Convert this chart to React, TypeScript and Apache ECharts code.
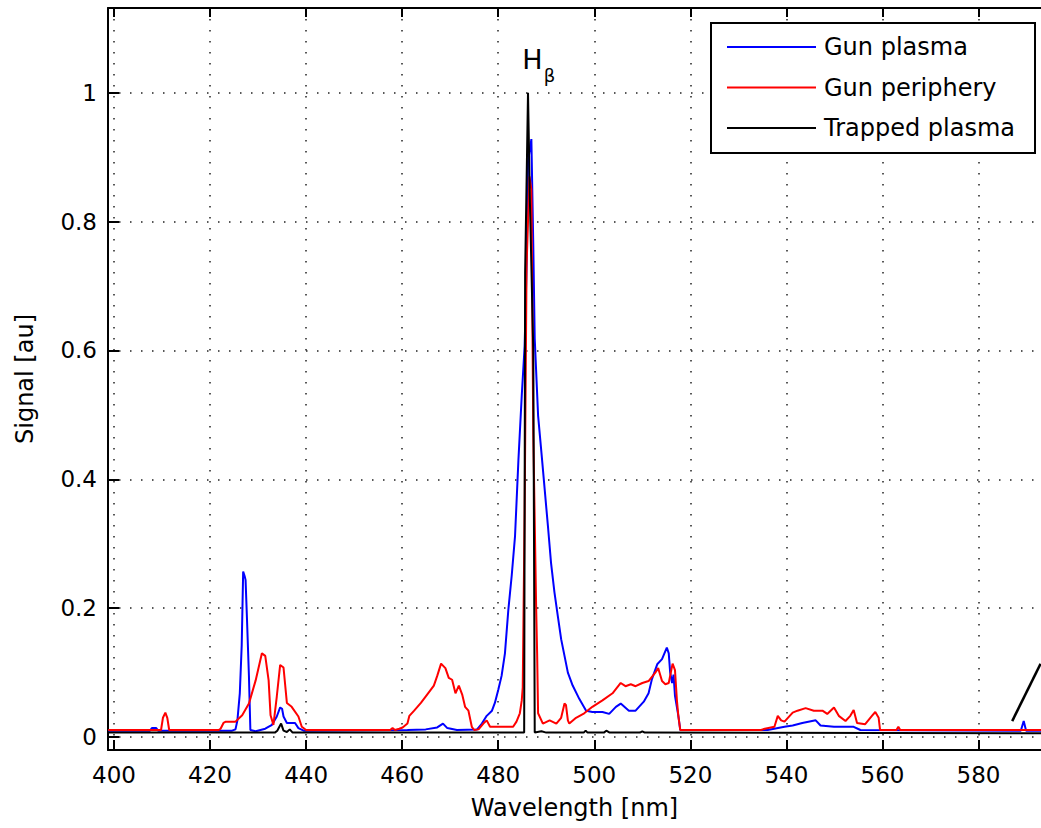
import React, { useEffect, useRef } from "react";
import * as echarts from "echarts";

// ---- Data (wavelength [nm], signal [au]) ----
const gunPlasma: [number, number][] = [
  [398.8, 0.010], [407.5, 0.010], [407.9, 0.014], [408.8, 0.014], [409.2, 0.010],
  [424.6, 0.010], [425.3, 0.012], [425.7, 0.026], [426.2, 0.068], [426.6, 0.143],
  [426.9, 0.257], [427.2, 0.250], [427.4, 0.244], [427.7, 0.182], [428.1, 0.095],
  [428.4, 0.011], [429.5, 0.009], [431.5, 0.013], [432.9, 0.019], [433.9, 0.032],
  [434.6, 0.046], [435.0, 0.044], [435.3, 0.032], [436.0, 0.022], [437.7, 0.022],
  [438.4, 0.014], [439.5, 0.010], [461.1, 0.011], [464.9, 0.012], [467.3, 0.015],
  [468.5, 0.021], [469.4, 0.014], [471.4, 0.011], [475.6, 0.012], [476.6, 0.021],
  [477.6, 0.033], [478.7, 0.041], [479.3, 0.053], [480.0, 0.073], [480.7, 0.095],
  [481.4, 0.130], [482.1, 0.197], [482.8, 0.250], [483.5, 0.312], [484.2, 0.429],
  [484.9, 0.530], [485.5, 0.607], [485.9, 0.731], [486.2, 0.893], [486.9, 0.928],
  [487.3, 0.763], [487.6, 0.618], [488.3, 0.499], [489.0, 0.441], [489.7, 0.382],
  [490.4, 0.323], [491.0, 0.270], [491.7, 0.225], [492.4, 0.188], [493.1, 0.152],
  [493.8, 0.126], [494.5, 0.100], [495.5, 0.080], [496.9, 0.059], [498.3, 0.041],
  [499.6, 0.039], [501.7, 0.039], [503.1, 0.036], [504.5, 0.047], [505.5, 0.052],
  [507.2, 0.041], [508.6, 0.041], [510.3, 0.055], [511.3, 0.068], [512.0, 0.090],
  [513.1, 0.113], [514.1, 0.121], [515.1, 0.139], [515.5, 0.130], [515.8, 0.100],
  [516.2, 0.084], [516.5, 0.097], [516.8, 0.064], [517.5, 0.033], [517.9, 0.011],
  [536.1, 0.011], [539.6, 0.016], [541.3, 0.018], [543.3, 0.022], [546.1, 0.026],
  [547.1, 0.018], [549.9, 0.016], [554.0, 0.016], [555.4, 0.011], [588.8, 0.010],
  [589.4, 0.025], [589.9, 0.010], [593.0, 0.010],
];

const gunPeriphery: [number, number][] = [
  [398.8, 0.011], [409.8, 0.011], [410.2, 0.030], [410.7, 0.038], [411.1, 0.030],
  [411.5, 0.011], [421.8, 0.011], [422.2, 0.013], [422.8, 0.022], [423.3, 0.024],
  [425.3, 0.024], [426.7, 0.034], [428.1, 0.052], [429.5, 0.088], [430.8, 0.130],
  [431.5, 0.126], [432.2, 0.088], [432.6, 0.034], [433.2, 0.019], [433.9, 0.063],
  [434.6, 0.112], [435.3, 0.108], [436.0, 0.053], [437.0, 0.047], [438.4, 0.032],
  [439.1, 0.016], [440.0, 0.011], [457.5, 0.011], [458.0, 0.014], [458.5, 0.011],
  [459.4, 0.013], [460.1, 0.015], [461.1, 0.021], [461.5, 0.033], [462.5, 0.041],
  [463.9, 0.053], [465.2, 0.066], [466.6, 0.080], [467.3, 0.095], [468.1, 0.114],
  [469.0, 0.107], [469.7, 0.092], [470.4, 0.089], [471.1, 0.068], [471.8, 0.080],
  [472.5, 0.066], [473.1, 0.047], [473.8, 0.041], [474.5, 0.016], [475.0, 0.011],
  [475.9, 0.012], [476.9, 0.021], [477.6, 0.026], [478.3, 0.016], [479.0, 0.016],
  [483.1, 0.016], [483.8, 0.024], [484.5, 0.037], [484.9, 0.057], [485.1, 0.077],
  [485.5, 0.350], [485.9, 0.730], [486.5, 0.870], [486.9, 0.850], [487.3, 0.470],
  [487.9, 0.200], [488.1, 0.130], [488.3, 0.037], [489.3, 0.021], [490.7, 0.026],
  [492.1, 0.021], [493.1, 0.030], [493.8, 0.052], [494.1, 0.050], [494.5, 0.026],
  [494.8, 0.021], [496.2, 0.030], [497.9, 0.037], [499.6, 0.047], [501.7, 0.057],
  [503.8, 0.068], [505.5, 0.084], [506.5, 0.079], [507.6, 0.082], [508.6, 0.079],
  [510.0, 0.084], [511.3, 0.087], [512.7, 0.100], [513.3, 0.107], [514.1, 0.087],
  [514.8, 0.082], [515.5, 0.084], [516.3, 0.114], [516.8, 0.104], [517.2, 0.057],
  [517.5, 0.033], [517.9, 0.011], [534.7, 0.011], [535.5, 0.013], [537.5, 0.016],
  [538.2, 0.033], [538.9, 0.026], [539.6, 0.024], [541.3, 0.038], [542.3, 0.041],
  [544.0, 0.045], [545.7, 0.041], [547.5, 0.041], [548.5, 0.036], [549.9, 0.046],
  [550.9, 0.033], [552.3, 0.025], [553.3, 0.033], [554.0, 0.042], [554.7, 0.022],
  [556.4, 0.020], [557.8, 0.033], [558.5, 0.039], [559.2, 0.030], [559.5, 0.011],
  [562.9, 0.011], [563.3, 0.016], [563.7, 0.011], [593.0, 0.011],
];

const trappedPlasma: [number, number][] = [
  [398.8, 0.007], [433.5, 0.007], [434.0, 0.010], [434.8, 0.021], [435.3, 0.010],
  [436.0, 0.008], [436.6, 0.012], [437.2, 0.007], [485.4, 0.007], [485.6, 0.720],
  [486.2, 1.000], [486.6, 0.830], [487.3, 0.600], [487.6, 0.007], [489.0, 0.009],
  [490.0, 0.007], [497.8, 0.007], [498.2, 0.010], [498.6, 0.007], [502.0, 0.007],
  [502.5, 0.010], [503.2, 0.007], [509.5, 0.007], [510.0, 0.009], [510.5, 0.007],
  [593.0, 0.006],
];

const seriesNames = ["Gun plasma", "Gun periphery", "Trapped plasma"];
const seriesColors = ["#0000ff", "#ff0000", "#000000"];

const xTicks = [400, 420, 440, 460, 480, 500, 520, 540, 560, 580];
const yTicks = [0, 0.2, 0.4, 0.6, 0.8, 1];
const xRange = [398.76, 593];
const yRange = [-0.02, 1.1314];

// H-beta annotation positions (data coords)
const hLabelPos: [number, number] = [487.1, 1.052];
const betaLabelPos: [number, number] = [490.7, 1.027];
// annotation stroke at lower right (data coords)
const arrowLine: [number, number][] = [[587.0, 0.0248], [592.9, 0.1137]];

const FONT = "DejaVu Sans";

export default function App() {
  const ref = useRef<HTMLDivElement>(null);
  useEffect(() => {
    if (!ref.current) return;
    const chart = echarts.init(ref.current, undefined, { renderer: "svg" });
    const dotted = { color: "#222", width: 1.5, type: [1.5, 9.5] as any };
    const option: any = {
      animation: false,
      backgroundColor: "#fff",
      grid: { left: 108, top: 8, width: 941, height: 742, show: false },
      legend: {
        orient: "vertical",
        left: 711,
        top: 23,
        padding: [12, 20, 13, 16],
        itemGap: 16.5,
        itemWidth: 89,
        itemHeight: 2,
        icon: "rect",
        backgroundColor: "#fff",
        borderColor: "#000",
        borderWidth: 2,
        borderRadius: 0,
        data: seriesNames,
        textStyle: { fontFamily: FONT, fontSize: 24, color: "#000", padding: [0, 0, 0, 3] },
      },
      xAxis: [
        {
          type: "value",
          min: xRange[0],
          max: xRange[1],
          position: "bottom",
          axisLine: { show: true, onZero: false, lineStyle: { color: "#000", width: 2 } },
          axisTick: { show: true, inside: true, length: 10, customValues: xTicks, lineStyle: { color: "#000", width: 2 } },
          axisLabel: { show: true, customValues: xTicks, margin: 13, fontFamily: FONT, fontSize: 23, color: "#000" },
          splitLine: { show: true, lineStyle: dotted },
          name: "Wavelength [nm]",
          nameLocation: "middle",
          nameGap: 46,
          nameTextStyle: { fontFamily: FONT, fontSize: 24, color: "#000" },
        },
        {
          type: "value",
          min: xRange[0],
          max: xRange[1],
          position: "top",
          axisLine: { show: true, onZero: false, lineStyle: { color: "#000", width: 2 } },
          axisTick: { show: true, inside: true, length: 9, customValues: xTicks, lineStyle: { color: "#000", width: 2 } },
          axisLabel: { show: false },
          splitLine: { show: false },
        },
      ],
      yAxis: [
        {
          type: "value",
          min: yRange[0],
          max: yRange[1],
          axisLine: { show: true, onZero: false, lineStyle: { color: "#000", width: 2 } },
          axisTick: { show: true, inside: true, length: 11, customValues: yTicks, lineStyle: { color: "#000", width: 2 } },
          axisLabel: { show: true, customValues: yTicks, margin: 11, fontFamily: FONT, fontSize: 23, color: "#000" },
          splitLine: { show: true, lineStyle: dotted },
          name: "Signal [au]",
          nameLocation: "middle",
          nameGap: 71,
          nameTextStyle: { fontFamily: FONT, fontSize: 24, color: "#000" },
        },
      ],
      series: [
        {
          name: seriesNames[0],
          type: "line",
          data: gunPlasma,
          symbol: "none",
          color: seriesColors[0],
          lineStyle: { color: seriesColors[0], width: 2 },
        },
        {
          name: seriesNames[1],
          type: "line",
          data: gunPeriphery,
          symbol: "none",
          color: seriesColors[1],
          lineStyle: { color: seriesColors[1], width: 2 },
        },
        {
          name: seriesNames[2],
          type: "line",
          data: trappedPlasma,
          symbol: "none",
          color: seriesColors[2],
          lineStyle: { color: seriesColors[2], width: 2 },
          markPoint: {
            symbol: "rect",
            symbolSize: 1,
            silent: true,
            itemStyle: { color: "transparent" },
            label: { show: true, position: "inside", color: "#000", fontFamily: FONT },
            data: [
              { coord: hLabelPos, label: { formatter: "H", fontSize: 27 } },
              { coord: betaLabelPos, label: { formatter: "β", fontSize: 18 } },
            ],
          },
          markLine: {
            silent: true,
            symbol: ["none", "none"],
            label: { show: false },
            lineStyle: { color: "#000", width: 2.5, type: "solid" },
            data: [[{ coord: arrowLine[0] }, { coord: arrowLine[1] }]],
          },
        },
      ],
    };
    chart.setOption(option);
    return () => chart.dispose();
  }, []);
  return (
    <div style={{ position: "fixed", left: 0, top: 0, width: 1041, height: 828, overflow: "hidden", background: "#fff" }}>
      <div ref={ref} style={{ width: 1041, height: 828 }} />
    </div>
  );
}
